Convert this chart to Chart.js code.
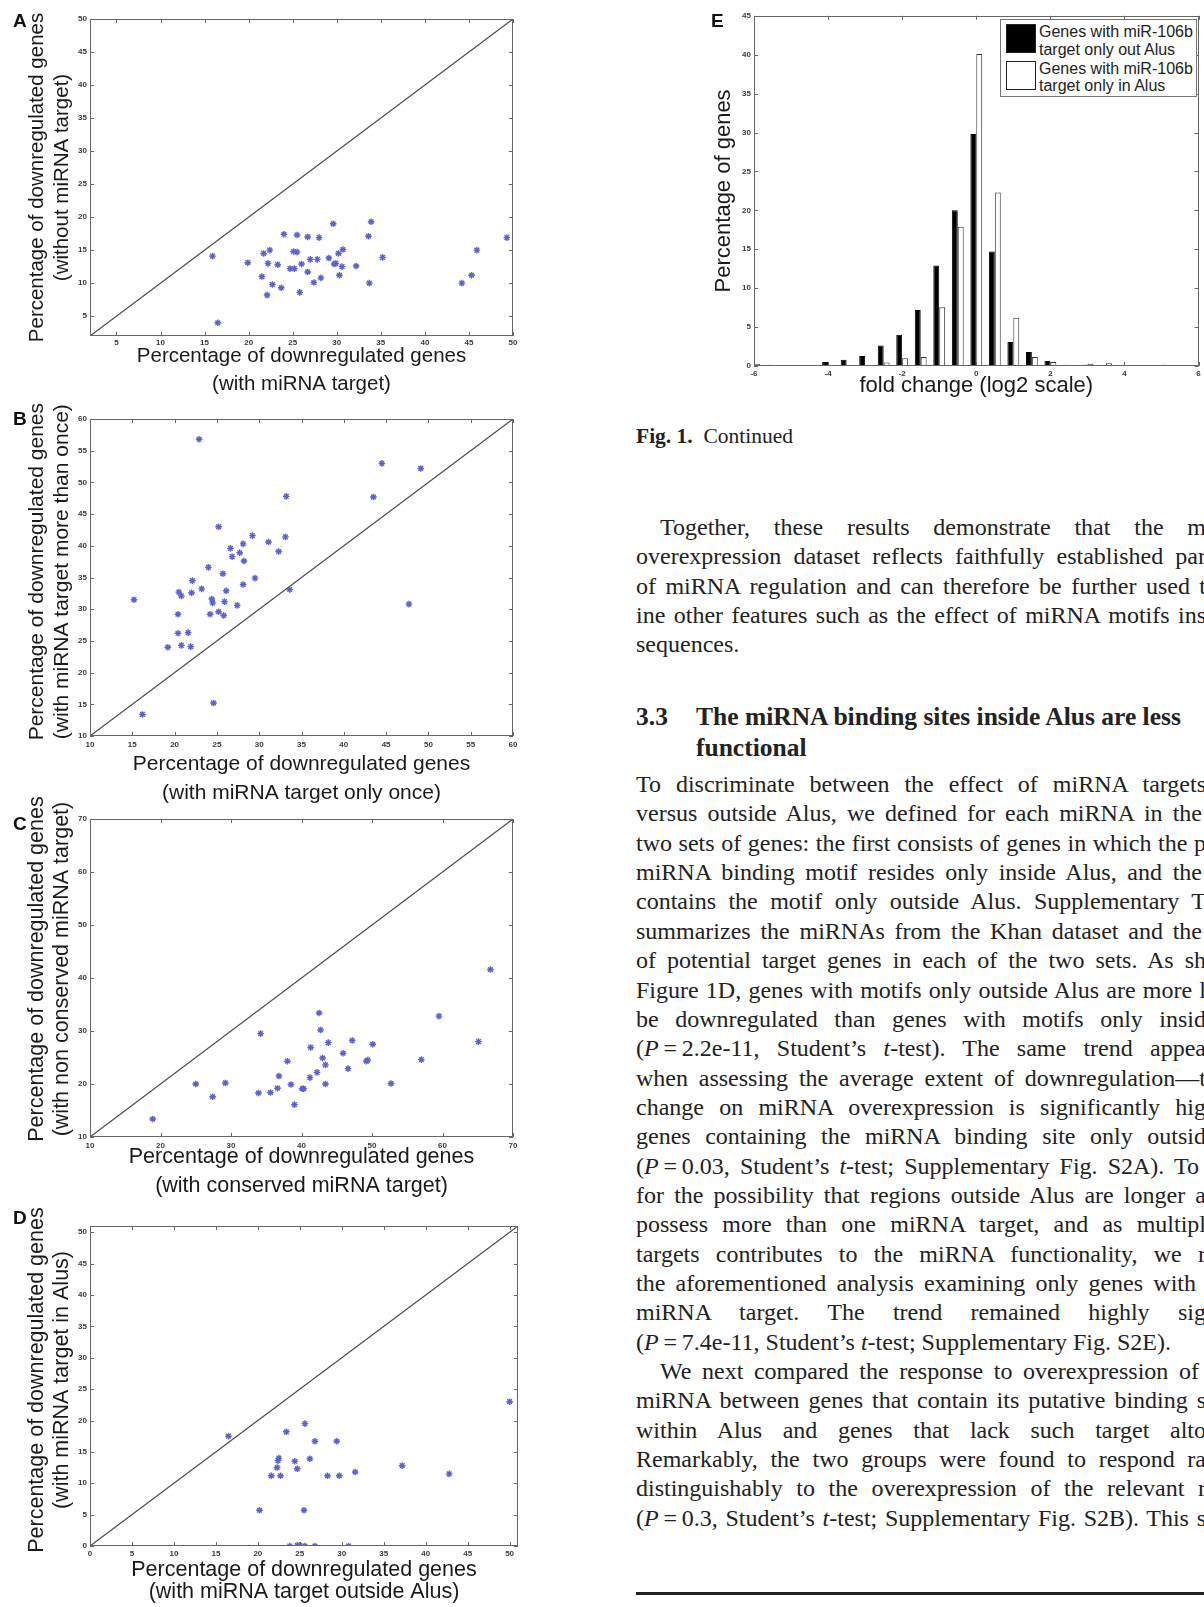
<!DOCTYPE html>
<html>
<head>
<meta charset="utf-8">
<script src="https://cdn.jsdelivr.net/npm/chart.js@4.4.1/dist/chart.umd.min.js"></script>
<style>
  html, body { margin: 0; padding: 0; background: #fff; }
  body { width: 1204px; height: 1607px; position: relative; overflow: hidden; }
  .panel { position: absolute; }
  .tag { position: absolute; font: bold 19px "Liberation Sans", Arial, sans-serif; line-height: 19px; color: #111; }
  .col { position: absolute; left: 636px; font-family: "Liberation Serif", "Times New Roman", serif; color: #222; }
  .ln { width: 570px; height: 29.35px; line-height: 29.35px; font-size: 24px; white-space: nowrap;
        text-align: justify; text-align-last: justify; }
  .ln.l { text-align: left; text-align-last: left; }
  .ln.ind { text-indent: 24px; }
  .cap { font-size: 21.5px; line-height: 25.8px; }
  .head { font-weight: bold; font-size: 25.5px; line-height: 31.4px; }
  .rule { position: absolute; left: 636px; top: 1592px; width: 570px; height: 3px; background: #222; }
  #legendE { position: absolute; left: 1000px; top: 19px; width: 195px; height: 76px; border: 1px solid #777;
             background: #fff; font: 16px "Liberation Sans", Arial, sans-serif; color: #222; }
  #legendE .sw { position: absolute; left: 5px; width: 30px; height: 29px; box-sizing: border-box; border: 1px solid #222; }
  #legendE .lb { position: absolute; left: 38px; line-height: 17.6px; white-space: nowrap; }
</style>
</head>
<body>

<div class="panel" style="left:0;top:11px;width:523px;height:388px"><canvas id="chartA"></canvas></div>
<div class="panel" style="left:0;top:397px;width:523px;height:410px"><canvas id="chartB"></canvas></div>
<div class="panel" style="left:0;top:795px;width:523px;height:405px"><canvas id="chartC"></canvas></div>
<div class="panel" style="left:0;top:1202px;width:528px;height:401px"><canvas id="chartD"></canvas></div>
<div class="panel" style="left:700px;top:8px;width:504px;height:391px"><canvas id="chartE"></canvas></div>
<div id="legendE"></div>

<div class="tag" style="left:13px;top:10.5px">A</div>
<div class="tag" style="left:13px;top:409px">B</div>
<div class="tag" style="left:13px;top:814px">C</div>
<div class="tag" style="left:13px;top:1207.5px">D</div>
<div class="tag" style="left:711px;top:10.8px">E</div>

<div class="col cap" style="top:424px"><b>Fig. 1.</b>&ensp;Continued</div>

<div class="col" style="top:513.1px">
  <div class="ln ind">Together, these results demonstrate that the m</div>
  <div class="ln">overexpression dataset reflects faithfully established par</div>
  <div class="ln">of miRNA regulation and can therefore be further used t</div>
  <div class="ln">ine other features such as the effect of miRNA motifs ins</div>
  <div class="ln l">sequences.</div>
</div>

<div class="col head" style="top:700.8px">
  <div style="position:absolute;left:0;top:0">3.3</div>
  <div style="position:absolute;left:60px;top:0;white-space:nowrap">The miRNA binding sites inside Alus are less<br>functional</div>
</div>

<div class="col" style="top:770.1px">
  <div class="ln">To discriminate between the effect of miRNA targets</div>
  <div class="ln" style="width:566px">versus outside Alus, we defined for each miRNA in the</div>
  <div class="ln">two sets of genes: the first consists of genes in which the p</div>
  <div class="ln" style="width:566px">miRNA binding motif resides only inside Alus, and the</div>
  <div class="ln">contains the motif only outside Alus. Supplementary T</div>
  <div class="ln" style="width:566px">summarizes the miRNAs from the Khan dataset and the</div>
  <div class="ln">of potential target genes in each of the two sets. As sh</div>
  <div class="ln">Figure 1D, genes with motifs only outside Alus are more l</div>
  <div class="ln">be downregulated than genes with motifs only insid</div>
  <div class="ln">(<i>P</i>&thinsp;=&thinsp;2.2e-11, Student’s <i>t</i>-test). The same trend appea</div>
  <div class="ln">when assessing the average extent of downregulation—t</div>
  <div class="ln">change on miRNA overexpression is significantly hig</div>
  <div class="ln">genes containing the miRNA binding site only outsid</div>
  <div class="ln" style="width:563px">(<i>P</i>&thinsp;=&thinsp;0.03, Student’s <i>t</i>-test; Supplementary Fig. S2A). To</div>
  <div class="ln">for the possibility that regions outside Alus are longer a</div>
  <div class="ln">possess more than one miRNA target, and as multipl</div>
  <div class="ln">targets contributes to the miRNA functionality, we r</div>
  <div class="ln" style="width:560px">the aforementioned analysis examining only genes with</div>
  <div class="ln">miRNA target. The trend remained highly sig</div>
  <div class="ln l">(<i>P</i>&thinsp;=&thinsp;7.4e-11, Student’s <i>t</i>-test; Supplementary Fig. S2E).</div>
  <div class="ln ind" style="width:563px">We next compared the response to overexpression of</div>
  <div class="ln">miRNA between genes that contain its putative binding s</div>
  <div class="ln">within Alus and genes that lack such target alto</div>
  <div class="ln">Remarkably, the two groups were found to respond ra</div>
  <div class="ln">distinguishably to the overexpression of the relevant r</div>
  <div class="ln">(<i>P</i>&thinsp;=&thinsp;0.3, Student’s <i>t</i>-test; Supplementary Fig. S2B). This s</div>
</div>
<div class="rule"></div>

<script>
// panel A: with vs without miRNA target
const aX = [15.9, 16.5, 19.9, 21.5, 21.7, 22.4, 22.2, 22.1, 22.7, 23.3, 23.7, 24.0, 24.7, 25.1, 25.2, 25.5, 25.5, 26.0, 25.8, 26.7, 26.7, 27.0, 27.4, 27.8, 28.0, 28.2, 29.1, 29.6, 29.7, 29.9, 30.2, 30.3, 30.6, 30.7, 32.2, 33.6, 33.7, 33.9, 35.2, 44.2, 45.3, 45.9, 49.3];
const aY = [14.1, 4.0, 13.1, 11.0, 14.5, 15.0, 13.0, 8.2, 9.8, 12.8, 9.3, 17.4, 12.2, 14.8, 12.2, 14.7, 17.3, 12.9, 8.6, 17.0, 11.7, 13.6, 10.1, 13.6, 16.9, 10.8, 13.8, 19.0, 12.9, 13.0, 14.5, 11.2, 12.5, 15.1, 12.6, 17.1, 10.0, 19.3, 13.9, 10.0, 11.2, 15.0, 16.9];
const aRange = [2, 50];
const aTicks = [5, 10, 15, 20, 25, 30, 35, 40, 45, 50];

// panel B: target only once vs more than once
const bX = [15.2, 16.2, 19.2, 20.4, 20.4, 20.5, 20.8, 20.8, 21.6, 21.9, 22.0, 22.1, 22.9, 23.2, 24.0, 24.2, 24.4, 24.5, 24.6, 25.2, 25.2, 25.7, 25.8, 25.9, 26.1, 26.6, 26.8, 27.4, 27.7, 28.1, 28.2, 28.1, 29.2, 29.5, 31.1, 32.3, 33.1, 33.2, 33.6, 43.5, 44.5, 47.7, 49.1];
const bY = [31.5, 13.4, 24.0, 26.2, 29.2, 32.7, 32.1, 24.3, 26.3, 24.1, 32.6, 34.5, 56.8, 33.2, 36.6, 29.2, 31.6, 31.0, 15.2, 43.0, 29.6, 35.6, 29.0, 31.2, 32.9, 39.6, 38.3, 30.6, 38.9, 40.3, 37.6, 33.9, 41.6, 34.9, 40.6, 39.1, 41.4, 47.8, 33.1, 47.7, 53.0, 30.8, 52.2];
const bRange = [10, 60];
const bTicks = [10, 15, 20, 25, 30, 35, 40, 45, 50, 55, 60];

// panel C: conserved vs non conserved
const cX = [18.9, 25.0, 27.4, 29.2, 33.9, 34.2, 35.6, 36.6, 36.8, 38.0, 38.5, 39.0, 40.1, 40.3, 41.2, 41.3, 42.2, 42.5, 42.7, 43.0, 43.4, 43.4, 43.8, 45.9, 46.6, 47.2, 49.2, 49.4, 50.1, 52.7, 57.0, 59.5, 65.1, 66.8];
const cY = [13.4, 20.0, 17.6, 20.2, 18.3, 29.5, 18.4, 19.2, 21.5, 24.3, 19.9, 16.1, 19.1, 19.1, 21.2, 26.9, 22.2, 33.4, 30.2, 24.9, 20.0, 23.6, 27.8, 25.8, 22.9, 28.2, 24.3, 24.5, 27.5, 20.1, 24.6, 32.8, 28.0, 41.6];
const cRange = [10, 70];
const cTicks = [10, 20, 30, 40, 50, 60, 70];

// panel D: outside vs inside Alus
const dX = [16.5, 20.2, 21.6, 22.3, 22.4, 22.5, 22.7, 23.4, 23.8, 24.4, 24.7, 24.7, 25.0, 25.5, 25.6, 25.6, 26.2, 26.8, 26.8, 28.3, 29.4, 29.7, 30.8, 31.6, 37.2, 42.8, 50.0];
const dY = [17.5, 5.7, 11.2, 12.5, 13.6, 14.0, 11.2, 18.2, 0, 13.5, 12.3, 0.1, 0.1, 5.7, 19.5, 0, 13.9, 16.7, 0, 11.2, 16.7, 11.2, 0, 11.8, 12.8, 11.5, 23.0];
const dRange = [0, 51];
const dTicks = [0, 5, 10, 15, 20, 25, 30, 35, 40, 45, 50];

// panel E: histogram of fold change for miR-106b
const binCenters = [-6, -5.5, -5, -4.5, -4, -3.5, -3, -2.5, -2, -1.5, -1, -0.5, 0, 0.5, 1, 1.5, 2, 2.5, 3, 3.5, 4, 4.5, 5, 5.5, 6];
const outAlus = [0, 0.15, 0.1, 0.05, 0.5, 0.8, 1.3, 2.65, 4.0, 7.2, 12.9, 20.0, 29.8, 14.7, 3.1, 1.8, 0.65, 0.15, 0.15, 0.05, 0, 0, 0, 0, 0];
const inAlus = [0.3, 0, 0, 0.1, 0.1, 0, 0.1, 0.45, 1.0, 1.15, 7.55, 17.9, 40.1, 22.3, 6.2, 1.15, 0.5, 0.1, 0.3, 0.35, 0, 0, 0.15, 0, 0];
const eXTicks = [-6, -4, -2, 0, 2, 4, 6];
const eYTicks = [0, 5, 10, 15, 20, 25, 30, 35, 40, 45];

Chart.defaults.font.family = '"Liberation Sans", Arial, sans-serif';
Chart.defaults.color = '#333';

// matlab style box with inward ticks on all four sides
const boxTicks = {
  id: 'boxTicks',
  afterDatasetsDraw(chart) {
    const {ctx, chartArea: a, scales: {x, y}} = chart;
    const len = 4;
    ctx.save();
    ctx.strokeStyle = '#666';
    ctx.lineWidth = 1;
    ctx.beginPath();
    x.ticks.forEach(t => {
      const px = Math.round(x.getPixelForValue(t.value)) + 0.5;
      ctx.moveTo(px, a.bottom); ctx.lineTo(px, a.bottom - len);
      ctx.moveTo(px, a.top); ctx.lineTo(px, a.top + len);
    });
    y.ticks.forEach(t => {
      const py = Math.round(y.getPixelForValue(t.value)) + 0.5;
      ctx.moveTo(a.left, py); ctx.lineTo(a.left + len, py);
      ctx.moveTo(a.right, py); ctx.lineTo(a.right - len, py);
    });
    ctx.stroke();
    ctx.strokeRect(Math.round(a.left) + 0.5, Math.round(a.top) + 0.5,
                   Math.round(a.right - a.left) - 1, Math.round(a.bottom - a.top) - 1);
    ctx.restore();
  }
};

function axis(range, ticks, pad, title, titleFont, titleLh, titlePad) {
  return {
    type: 'linear', min: range[0], max: range[1], offset: false,
    grid: {display: false, drawTicks: false},
    border: {display: false},
    afterBuildTicks: s => { s.ticks = ticks.map(v => ({value: v})); },
    ticks: {font: {size: 8, weight: 'bold'}, color: '#3a3a3a', padding: pad, autoSkip: false, maxRotation: 0,
            callback: v => String(v)},
    title: {display: true, text: title, color: '#1a1a1a',
            font: {size: titleFont, lineHeight: titleLh}, padding: titlePad}
  };
}

function scatterPanel(id, xs, ys, range, ticks, o) {
  const xAx = axis(range, ticks, o.xpad, o.xtitle, o.fs, o.xlh, {top: 0, bottom: 0});
  xAx.afterFit = s => { s.height = o.xh; };
  // leading blanks nudge the rotated label upward, as in the scan
  const shift = ' '.repeat(o.lift || 0);
  const yAx = axis(range, ticks, 3, o.ytitle.map(t => shift + t), o.fs, '25px', {top: 24.5, bottom: 0});
  yAx.afterFit = s => { s.width = 90; };
  new Chart(document.getElementById(id), {
    type: 'scatter',
    data: {
      datasets: [
        {data: xs.map((v, i) => ({x: v, y: ys[i]})), pointStyle: 'star', pointRadius: 3.3,
         pointHoverRadius: 3.3, borderColor: '#5b62cc', pointBorderWidth: 1.4, borderWidth: 1.4},
        {type: 'line', data: [{x: range[0], y: range[0]}, {x: range[1], y: range[1]}],
         borderColor: '#4a4a4a', borderWidth: 1.2, pointRadius: 0, fill: false}
      ]
    },
    options: {
      responsive: true, maintainAspectRatio: false, animation: false,
      layout: {padding: {top: o.top, right: 10, left: 0, bottom: 0}},
      plugins: {legend: {display: false}, tooltip: {enabled: false}},
      scales: {x: xAx, y: yAx}
    },
    plugins: [boxTicks]
  });
}

scatterPanel('chartA', aX, aY, aRange, aTicks, {
  top: 8, xh: 63, xpad: 2, fs: 20.5, xlh: '28.5px', lift: 0,
  xtitle: ['Percentage of downregulated genes', '(with miRNA target)'],
  ytitle: ['Percentage of downregulated genes', '(without miRNA target)']
});
scatterPanel('chartB', bX, bY, bRange, bTicks, {
  top: 22, xh: 71, xpad: 3.5, fs: 21, xlh: '28.5px', lift: 2,
  xtitle: ['Percentage of downregulated genes', '(with miRNA target only once)'],
  ytitle: ['Percentage of downregulated genes', '(with miRNA target more than once)']
});
scatterPanel('chartC', cX, cY, cRange, cTicks, {
  top: 24, xh: 63, xpad: 3.5, fs: 21.5, xlh: '28.5px', lift: 3,
  xtitle: ['Percentage of downregulated genes', '(with conserved miRNA target)'],
  ytitle: ['Percentage of downregulated genes', '(with non conserved miRNA target)']
});
scatterPanel('chartD', dX, dY, dRange, dTicks, {
  top: 24, xh: 57, xpad: 2.5, fs: 21.5, xlh: '22px', lift: 2,
  xtitle: ['Percentage of downregulated genes', '(with miRNA target outside Alus)'],
  ytitle: ['Percentage of downregulated genes', '(with miRNA target in Alus)']
});

// histogram
const exAx = axis([-6, 6], eXTicks, 3.2, 'fold change (log2 scale)', 22, '26.4px', {top: 0, bottom: 0});
exAx.afterFit = s => { s.height = 33; };
const eyAx = axis([0, 45], eYTicks, 3, 'Percentage of genes', 22, '26.4px', {top: 10.7, bottom: 0});
eyAx.afterFit = s => { s.width = 54; };

const chartE = new Chart(document.getElementById('chartE'), {
  type: 'bar',
  data: {
    datasets: [
      {label: ['Genes with miR-106b', 'target only out Alus'],
       data: binCenters.map((x, i) => ({x: x, y: outAlus[i]})),
       backgroundColor: '#000', borderColor: '#000', borderWidth: 1},
      {label: ['Genes with miR-106b', 'target only in Alus'],
       data: binCenters.map((x, i) => ({x: x, y: inAlus[i]})),
       backgroundColor: '#fff', borderColor: '#333', borderWidth: 1}
    ]
  },
  options: {
    responsive: true, maintainAspectRatio: false, animation: false,
    layout: {padding: {top: 6, right: 4, left: 0, bottom: 0}},
    datasets: {bar: {categoryPercentage: 0.64, barPercentage: 1.0}},
    plugins: {legend: {display: false}, tooltip: {enabled: false}},
    scales: {x: exAx, y: eyAx}
  },
  plugins: [boxTicks]
});

// html legend built from the histogram datasets
const legendEl = document.getElementById('legendE');
chartE.data.datasets.forEach((ds, i) => {
  const sw = document.createElement('div');
  sw.className = 'sw';
  sw.style.top = (4 + i * 36.7) + 'px';
  sw.style.background = ds.backgroundColor;
  legendEl.appendChild(sw);
  const lb = document.createElement('div');
  lb.className = 'lb';
  lb.style.top = (3.1 + i * 36.6) + 'px';
  lb.innerHTML = ds.label.join('<br>');
  legendEl.appendChild(lb);
});
</script>
</body>
</html>
